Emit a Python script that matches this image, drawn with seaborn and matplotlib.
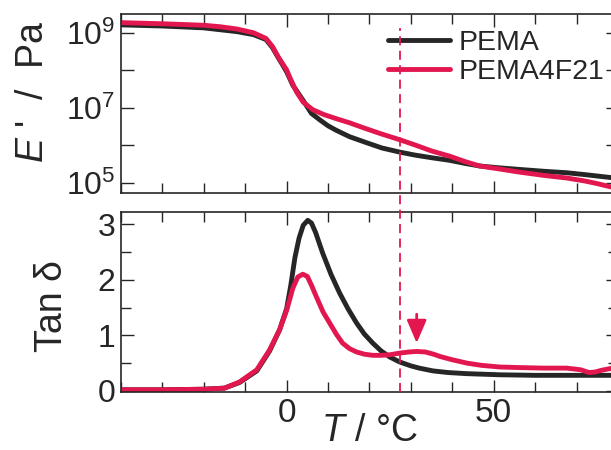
import numpy as np
import matplotlib
matplotlib.use("Agg")
import matplotlib.pyplot as plt
import matplotlib.ticker as mticker
import matplotlib.transforms as mtransforms
from matplotlib.lines import Line2D
import seaborn as sns

# temperatures (deg C) and storage modulus (log10 Pa)
pema_T_E = [-40, -30, -20, -16, -12, -8, -5, -3.4, -2, -1, 0, 1.5, 3.9, 6, 8, 10, 12,
            15.2, 19.3, 23, 27.3, 31, 35, 39.4, 43, 46.6, 51.4, 56, 62, 67.6, 72, 76, 80]
pema_logE = [9.21, 9.18, 9.13, 9.08, 9.03, 8.95, 8.82, 8.60, 8.33, 8.15, 7.96, 7.60, 7.21,
             6.85, 6.68, 6.52, 6.40, 6.23, 6.07, 5.93, 5.82, 5.74, 5.67, 5.60, 5.52, 5.45,
             5.40, 5.36, 5.31, 5.27, 5.22, 5.17, 5.12]
f21_T_E = [-40, -30, -20, -16, -12, -8, -5, -3.4, -2, -1, 0, 1, 2.4, 4, 6.3, 9, 12, 15.2,
           19, 23, 27.3, 31, 35, 39.4, 43, 46.6, 51.4, 56, 62, 67.6, 72, 75, 78, 80]
f21_logE = [9.27, 9.24, 9.20, 9.16, 9.10, 9.00, 8.85, 8.63, 8.35, 8.18, 8.01, 7.75, 7.42,
            7.15, 6.95, 6.82, 6.71, 6.60, 6.45, 6.30, 6.15, 6.01, 5.85, 5.71, 5.57, 5.45,
            5.37, 5.29, 5.20, 5.13, 5.05, 4.98, 4.90, 4.85]

# tan delta
pema_T_tan = [-40, -30, -20, -15, -11.4, -7.2, -4.1, -1.7, 0, 1.0, 2.0, 3.0, 4.0, 5.1, 6.0,
              7.0, 8.7, 10.7, 12.8, 14.8, 16.9, 18.8, 20.8, 22.8, 24.9, 27.3, 30, 32, 35.3,
              39, 43.5, 51.4, 60, 67.6, 75, 80]
pema_tan = [0.02, 0.02, 0.03, 0.05, 0.15, 0.36, 0.72, 1.10, 1.48, 1.90, 2.40, 2.75, 2.98,
            3.07, 3.02, 2.85, 2.48, 2.10, 1.76, 1.48, 1.22, 1.02, 0.86, 0.72, 0.61, 0.52,
            0.45, 0.41, 0.36, 0.33, 0.31, 0.29, 0.28, 0.28, 0.28, 0.28]
f21_T_tan = [-40, -30, -20, -15, -11.4, -7.2, -4.1, -1.7, 0, 1.5, 2.7, 3.9, 5, 6, 7.2, 8.8,
             10.4, 12, 13.5, 15.2, 16.9, 18.8, 20.8, 22.8, 24.9, 27.3, 29.5, 31.4, 33.5,
             35.5, 37, 40, 43.5, 47, 51.4, 56, 62, 67.6, 71, 73, 74.5, 76, 78, 80]
f21_tan = [0.02, 0.02, 0.03, 0.05, 0.16, 0.38, 0.74, 1.10, 1.45, 1.85, 2.05, 2.10, 2.06,
           1.90, 1.69, 1.42, 1.22, 1.02, 0.86, 0.76, 0.70, 0.66, 0.64, 0.64, 0.65, 0.68,
           0.70, 0.71, 0.70, 0.66, 0.62, 0.56, 0.50, 0.46, 0.43, 0.42, 0.41, 0.41, 0.38,
           0.33, 0.34, 0.37, 0.40, 0.42]

t_dashed = 27.3
arrow_T, arrow_tail, arrow_tip = 31.4, 1.38, 0.86

black = "#262626"
red = "#e3174f"

sns.set_style("ticks")
plt.rcParams["font.family"] = ["Liberation Sans", "DejaVu Sans"]
plt.rcParams["mathtext.fontset"] = "custom"
plt.rcParams["mathtext.rm"] = "Liberation Sans"
plt.rcParams["mathtext.it"] = "Liberation Sans:italic"

fig = plt.figure(figsize=(6.11, 4.5), dpi=100)
ax1 = fig.add_axes([0.198, 0.5711, 0.8134, 0.3978])
ax2 = fig.add_axes([0.198, 0.1289, 0.8134, 0.4])

# storage modulus
sns.lineplot(x=pema_T_E, y=10 ** np.array(pema_logE), ax=ax1, color=black, lw=3.5, label="PEMA")
sns.lineplot(x=f21_T_E, y=10 ** np.array(f21_logE), ax=ax1, color=red, lw=3.5, label="PEMA4F21")
ax1.set_yscale("log")
ax1.set_ylim(10 ** 4.73, 10 ** 9.5)
ax1.set_yticks([1e5, 1e6, 1e7, 1e8, 1e9])
ax1.set_yticklabels(["$10^5$", "", "$10^7$", "", "$10^9$"])
ax1.yaxis.set_minor_locator(mticker.NullLocator())
ax1.set_ylabel("$E$ '  /  Pa", fontsize=27)
ax1.yaxis.set_label_coords(-0.141, 0.567)
leg = ax1.legend(loc="upper left", bbox_to_anchor=(0.537, 0.91), frameon=False,
                 fontsize=20.5, handlelength=2.2, handletextpad=0.27, labelspacing=0.1,
                 borderpad=0, borderaxespad=0)

# tan delta
sns.lineplot(x=pema_T_tan, y=pema_tan, ax=ax2, color=black, lw=3.5, legend=False)
sns.lineplot(x=f21_T_tan, y=f21_tan, ax=ax2, color=red, lw=3.5, legend=False)
ax2.set_ylim(-0.02, 3.22)
ax2.yaxis.set_major_locator(mticker.MultipleLocator(1))
ax2.yaxis.set_minor_locator(mticker.MultipleLocator(0.5))
ax2.set_ylabel("Tan δ", fontsize=27)
ax2.yaxis.set_label_coords(-0.103, 0.478)
ax2.set_xlabel("$T$ / °C", fontsize=27)
ax2.xaxis.set_label_coords(0.5, -0.115)
ax2.annotate("", xy=(arrow_T, arrow_tip), xytext=(arrow_T, arrow_tail),
             arrowprops=dict(arrowstyle="-|>,head_length=0.7,head_width=0.3",
                             color=red, lw=2.0, mutation_scale=20, shrinkA=0, shrinkB=0))

for ax in (ax1, ax2):
    ax.set_xlim(-40, 80)
    ax.xaxis.set_major_locator(mticker.MultipleLocator(50))
    ax.xaxis.set_minor_locator(mticker.MultipleLocator(10))
    ax.tick_params(which="both", direction="in", top=True, right=True,
                   width=1.0, colors=black, labelsize=23, pad=4)
    ax.tick_params(which="major", length=9)
    ax.tick_params(which="minor", length=7)
    for s in ax.spines.values():
        s.set_linewidth(1.2)
        s.set_color(black)
    ax.patch.set_alpha(0)
ax2.tick_params(axis="x", labelsize=24)
ax1.tick_params(labelbottom=False)
ax1.set_xlabel("")

# dashed guide through both panels
trans = mtransforms.blended_transform_factory(ax2.transData, fig.transFigure)
fig.add_artist(Line2D([t_dashed, t_dashed], [0.129, 0.938], transform=trans,
                      color=red, lw=1.3, ls=(0, (5, 3))))

fig.savefig("out.png", dpi=100)
